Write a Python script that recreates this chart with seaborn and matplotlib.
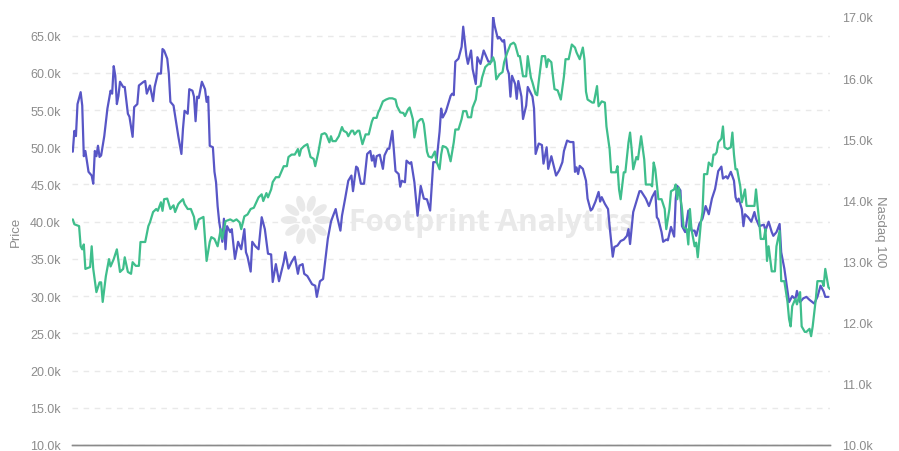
import matplotlib
matplotlib.use("Agg")

import matplotlib.pyplot as plt
import matplotlib.ticker as mticker
import numpy as np
import pandas as pd
import seaborn as sns
from matplotlib.patches import Ellipse

START_DATE = "2021-02-14"

# BTC price (left axis), day offset from START_DATE and value in thousands
btc_day = [
    0, 1, 2, 3, 5, 6, 7, 8, 10, 12,
    13, 14, 15, 16, 17, 18, 20, 22, 24, 25,
    26, 27, 28, 29, 30, 32, 33, 35, 36, 38,
    39, 41, 42, 45, 46, 47, 49, 51, 52, 54,
    56, 57, 58, 60, 61, 62, 64, 67, 69, 70,
    71, 73, 74, 76, 77, 78, 79, 80, 82, 84,
    85, 86, 87, 89, 90, 91, 92, 93, 95, 96,
    97, 98, 100, 101, 103, 105, 107, 109, 110, 111,
    113, 114, 116, 118, 120, 121, 122, 124, 126, 127,
    129, 131, 134, 135, 137, 139, 141, 143, 144, 146,
    147, 149, 152, 154, 155, 157, 159, 160, 162, 164,
    165, 167, 168, 170, 171, 173, 175, 177, 178, 180,
    181, 183, 185, 187, 189, 190, 191, 192, 193, 195,
    197, 198, 200, 201, 203, 205, 207, 208, 209, 211,
    212, 214, 215, 217, 219, 221, 223, 225, 227, 229,
    231, 233, 234, 235, 237, 240, 241, 242, 243, 245,
    247, 248, 250, 251, 253, 254, 256, 257, 259, 261,
    264, 266, 267, 268, 270, 271, 273, 274, 276, 277,
    278, 279, 281, 282, 283, 285, 286, 288, 289, 292,
    293, 294, 296, 298, 299, 301, 302, 304, 306, 307,
    309, 311, 312, 314, 316, 318, 319, 320, 321, 322,
    324, 326, 327, 329, 330, 332, 334, 335, 336, 338,
    340, 341, 343, 344, 346, 348, 350, 352, 353, 354,
    356, 358, 360, 361, 364, 366, 368, 370, 371, 372,
    374, 375, 377, 378, 380, 382, 383, 384, 386, 387,
    389, 391, 393, 395, 396, 398, 400, 402, 404, 406,
    408, 410, 412, 413, 415, 416, 418, 420, 421, 422,
    423, 425, 426, 427, 429, 431, 433, 434, 436, 439,
    440, 442, 444, 445, 447, 449, 450, 452, 454, 455,
    457, 459, 460, 462, 464, 466, 468, 471, 473, 475,
    477, 478, 480,
]
btc_k = [
    49.4, 52.2, 51.5, 55.8, 57.4, 55.6, 48.8, 49.5, 46.7, 46.2,
    45.1, 49.5, 48.8, 50.2, 48.7, 48.9, 51.5, 55.2, 57.6, 57.2,
    60.9, 59.6, 55.8, 56.9, 58.8, 58.1, 58.1, 54.5, 54.1, 51.4,
    55.4, 55.8, 58.3, 58.8, 58.9, 57.2, 58.3, 56.2, 58.1, 59.9,
    59.9, 63.2, 63.0, 61.9, 59.9, 56.1, 55.6, 51.5, 49.1, 52.5,
    54.9, 54.5, 57.8, 57.6, 56.8, 53.5, 56.8, 56.6, 58.8, 57.8,
    56.1, 56.8, 50.2, 50.0, 46.7, 45.3, 42.1, 40.0, 37.3, 40.4,
    36.3, 39.4, 38.6, 39.0, 35.0, 37.3, 36.3, 39.0, 35.9, 35.3,
    33.3, 37.3, 36.7, 36.3, 40.6, 39.8, 39.0, 35.7, 35.6, 31.9,
    34.3, 32.0, 34.6, 35.9, 33.7, 34.6, 35.3, 33.0, 34.1, 34.3,
    33.0, 32.7, 31.6, 31.4, 29.9, 32.0, 32.3, 34.1, 37.7, 40.0,
    40.6, 41.7, 40.6, 38.8, 40.8, 43.1, 45.5, 46.2, 44.1, 47.4,
    47.2, 45.1, 45.1, 49.1, 49.5, 48.2, 48.9, 47.4, 48.8, 49.0,
    47.1, 48.9, 49.8, 49.8, 52.2, 46.8, 46.4, 44.7, 45.5, 45.3,
    48.2, 47.8, 48.0, 45.3, 40.8, 44.8, 43.1, 43.0, 41.5, 48.0,
    48.0, 52.1, 55.2, 54.0, 54.8, 56.9, 57.2, 57.0, 61.5, 61.9,
    63.5, 66.2, 62.3, 61.2, 63.0, 60.5, 58.5, 62.1, 61.2, 63.0,
    61.5, 61.5, 67.5, 66.3, 64.6, 64.8, 64.2, 64.4, 60.5, 59.9,
    56.8, 59.6, 58.5, 56.5, 58.9, 56.8, 53.8, 55.6, 58.1, 56.8,
    55.2, 49.1, 50.5, 50.3, 47.8, 50.0, 47.1, 48.8, 47.1, 46.2,
    46.9, 48.0, 49.5, 50.9, 50.7, 50.7, 46.7, 47.3, 46.4, 47.5,
    47.1, 45.5, 43.1, 41.5, 41.7, 42.7, 44.0, 42.7, 43.3, 42.4,
    41.7, 39.4, 35.3, 36.6, 36.8, 37.4, 37.6, 38.1, 39.0, 37.0,
    41.3, 42.7, 44.1, 44.1, 43.1, 42.1, 43.3, 44.1, 40.6, 40.3,
    38.6, 37.3, 37.6, 37.5, 39.3, 38.0, 43.1, 44.8, 44.2, 39.4,
    38.6, 41.5, 38.8, 38.8, 38.1, 39.7, 40.4, 42.1, 41.0, 43.1,
    44.4, 46.8, 47.4, 45.8, 46.1, 45.8, 46.7, 45.5, 43.3, 42.7,
    43.1, 41.7, 39.4, 41.0, 40.6, 40.0, 41.3, 40.4, 39.4, 39.6,
    38.8, 40.0, 38.6, 38.1, 38.6, 39.7, 35.9, 33.7, 30.7, 29.2,
    30.0, 29.6, 30.7, 29.2, 29.7, 29.9, 29.5, 29.0, 29.9, 31.4,
    30.6, 29.9, 29.9,
]

# Nasdaq 100 (right axis), value in thousands
ndx_day = [
    0, 1, 4, 5, 6, 7, 8, 11, 12, 13,
    15, 17, 18, 19, 21, 23, 24, 26, 28, 30,
    32, 33, 35, 37, 38, 40, 42, 43, 46, 48,
    49, 51, 53, 54, 56, 57, 58, 60, 62, 64,
    65, 67, 68, 70, 71, 73, 75, 77, 78, 80,
    83, 84, 85, 87, 88, 90, 92, 94, 95, 97,
    100, 102, 104, 106, 107, 109, 111, 113, 115, 118,
    120, 121, 123, 124, 126, 127, 129, 131, 134, 136,
    137, 139, 141, 143, 144, 145, 147, 149, 151, 153,
    154, 156, 158, 160, 161, 163, 164, 165, 167, 169,
    171, 172, 174, 175, 177, 178, 179, 181, 182, 184,
    186, 188, 190, 191, 193, 194, 195, 197, 199, 201,
    203, 205, 206, 208, 210, 211, 213, 214, 216, 217,
    219, 221, 222, 223, 225, 226, 228, 230, 231, 233,
    234, 235, 237, 238, 240, 242, 243, 245, 247, 248,
    250, 251, 253, 254, 256, 257, 259, 260, 262, 264,
    265, 267, 268, 269, 271, 273, 274, 276, 278, 280,
    281, 283, 284, 286, 288, 289, 291, 292, 294, 295,
    296, 298, 300, 301, 302, 304, 305, 306, 308, 310,
    312, 313, 315, 317, 319, 320, 322, 324, 325, 326,
    327, 330, 331, 333, 334, 336, 338, 339, 341, 342,
    345, 346, 347, 348, 350, 351, 353, 354, 355, 356,
    358, 359, 361, 363, 364, 367, 368, 369, 370, 372,
    374, 376, 377, 379, 380, 382, 383, 384, 385, 387,
    388, 390, 391, 392, 393, 395, 396, 397, 399, 400,
    401, 403, 404, 406, 407, 408, 409, 410, 412, 413,
    414, 416, 418, 419, 420, 421, 422, 424, 425, 427,
    428, 430, 433, 434, 435, 436, 437, 439, 440, 441,
    442, 444, 446, 447, 449, 450, 452, 454, 455, 456,
    457, 459, 460, 462, 463, 465, 466, 468, 469, 470,
    472, 473, 476, 477, 478, 480, 481,
]
ndx_k = [
    13.69, 13.61, 13.58, 13.25, 13.20, 13.28, 12.88, 12.91, 13.25, 12.88,
    12.50, 12.66, 12.66, 12.34, 12.76, 13.04, 12.92, 13.04, 13.20, 12.83,
    12.88, 13.07, 12.83, 12.80, 12.99, 12.93, 12.93, 13.32, 13.32, 13.58,
    13.64, 13.81, 13.86, 13.83, 13.97, 13.83, 14.02, 14.03, 13.86, 13.92,
    13.81, 13.94, 13.97, 14.02, 13.94, 13.86, 13.86, 13.73, 13.53, 13.69,
    13.73, 13.37, 13.01, 13.32, 13.40, 13.37, 13.25, 13.53, 13.37, 13.66,
    13.69, 13.66, 13.69, 13.64, 13.53, 13.74, 13.77, 13.86, 13.88, 14.05,
    14.10, 13.99, 14.12, 14.05, 14.18, 14.30, 14.38, 14.38, 14.56, 14.56,
    14.71, 14.75, 14.75, 14.84, 14.73, 14.84, 14.89, 14.92, 14.71, 14.68,
    14.56, 14.79, 15.08, 15.10, 15.08, 14.95, 15.05, 14.97, 14.97, 15.05,
    15.20, 15.14, 15.11, 15.05, 15.14, 15.14, 15.08, 15.14, 15.14, 14.92,
    15.08, 15.08, 15.29, 15.35, 15.35, 15.44, 15.49, 15.62, 15.65, 15.67,
    15.67, 15.65, 15.54, 15.44, 15.43, 15.38, 15.49, 15.52, 15.33, 15.03,
    15.28, 15.33, 15.33, 15.25, 14.80, 14.72, 14.70, 14.80, 14.64, 14.51,
    14.75, 14.89, 14.87, 14.84, 14.64, 14.95, 15.16, 15.16, 15.33, 15.46,
    15.46, 15.36, 15.36, 15.52, 15.65, 15.85, 15.87, 16.01, 16.18, 16.23,
    16.23, 16.34, 16.26, 15.98, 16.06, 16.10, 16.26, 16.42, 16.55, 16.58,
    16.55, 16.36, 16.36, 16.03, 16.03, 16.36, 16.01, 15.93, 15.74, 15.72,
    15.95, 16.36, 16.36, 16.18, 16.31, 16.26, 16.03, 15.82, 15.80, 15.65,
    16.03, 16.31, 16.31, 16.55, 16.50, 16.42, 16.31, 16.50, 16.31, 15.78,
    15.65, 15.60, 15.60, 15.87, 15.54, 15.62, 15.60, 15.21, 14.84, 14.46,
    14.46, 14.56, 14.18, 14.02, 14.46, 14.46, 14.95, 15.11, 14.84, 14.51,
    14.71, 14.67, 15.05, 14.67, 14.26, 14.26, 14.23, 14.62, 14.51, 14.02,
    14.02, 13.86, 13.53, 13.86, 14.15, 14.18, 14.26, 14.02, 14.21, 13.86,
    13.56, 13.53, 13.28, 13.86, 13.53, 13.25, 13.31, 13.07, 13.64, 13.81,
    14.43, 14.43, 14.62, 14.56, 14.75, 14.75, 14.79, 14.95, 15.01, 15.21,
    14.87, 14.84, 14.87, 15.11, 14.75, 14.51, 14.51, 14.23, 13.97, 14.18,
    13.91, 13.91, 13.91, 14.18, 13.91, 13.66, 13.37, 13.37, 13.53, 13.01,
    13.25, 12.84, 12.84, 13.25, 13.50, 12.68, 12.68, 12.34, 12.06, 11.94,
    12.27, 12.39, 12.30, 12.50, 11.94, 11.85, 11.85, 11.90, 11.78, 11.94,
    12.39, 12.68, 12.68, 12.60, 12.88, 12.58, 12.55,
]

price_ticks = [10000, 15000, 20000, 25000, 30000, 35000, 40000,
               45000, 50000, 55000, 60000, 65000]
nasdaq_ticks = [10000, 11000, 12000, 13000, 14000, 15000, 16000, 17000]

PURPLE = "#5856c6"
GREEN = "#3fbe8c"
LABEL_GRAY = "#8c8c8c"
AXIS_GRAY = "#8a8a8a"
WATERMARK = "#e9e9e9"


def to_frame(days, values_k):
    """Turn day offsets and values in thousands into a plotting frame."""
    start = pd.Timestamp(START_DATE)
    return pd.DataFrame({
        "date": start + pd.to_timedelta(days, unit="D"),
        "value": np.array(values_k) * 1000,
    })


def k_format(v, _pos):
    return f"{v / 1000:.1f}k"


sns.set_theme(style="white")
plt.rcParams["font.family"] = ["Liberation Sans", "DejaVu Sans"]

btc = to_frame(btc_day, btc_k)
ndx = to_frame(ndx_day, ndx_k)

fig = plt.figure(figsize=(8.99, 4.52), dpi=100, facecolor="white")
ax = fig.add_axes([72 / 899, 1 - 446 / 452, 758 / 899, 428 / 452])
ax2 = ax.twinx()
ax.patch.set_visible(False)

# watermark behind everything
fig.text(349 / 899, 1 - 223 / 452, "Footprint Analytics", fontsize=21.5,
         fontweight="bold", color=WATERMARK, ha="left", va="center",
         zorder=-1, family=["Open Sans", "DejaVu Sans"])
cx, cy = 3.06, (452 - 221) / 100
for ang in np.arange(0, 360, 36):
    r = np.deg2rad(ang)
    fig.add_artist(Ellipse((cx + 0.17 * np.cos(r), cy + 0.17 * np.sin(r)),
                           0.15, 0.065, angle=ang, color=WATERMARK,
                           transform=fig.dpi_scale_trans, zorder=-1))
fig.add_artist(Ellipse((cx, cy), 0.07, 0.07, color=WATERMARK,
                       transform=fig.dpi_scale_trans, zorder=-1))

sns.lineplot(data=btc, x="date", y="value", ax=ax, color=PURPLE,
             linewidth=1.6, estimator=None)
sns.lineplot(data=ndx, x="date", y="value", ax=ax2, color=GREEN,
             linewidth=1.6, estimator=None)

ax.set_xlim(btc["date"].iloc[0] - pd.Timedelta(days=0.5),
            btc["date"].iloc[-1] + pd.Timedelta(days=1))
ax.set_ylim(10000, 67500)
ax2.set_ylim(10000, 17000)

ax.set_yticks(price_ticks)
ax2.set_yticks(nasdaq_ticks)
ax.yaxis.set_major_formatter(mticker.FuncFormatter(k_format))
ax2.yaxis.set_major_formatter(mticker.FuncFormatter(k_format))

ax.grid(axis="y", color="#e9e9e9", linestyle=(0, (4, 4)), linewidth=1)
ax.grid(axis="x", visible=False)
ax2.grid(False)

ax.tick_params(axis="y", length=0, pad=8, labelsize=9, labelcolor=LABEL_GRAY)
ax2.tick_params(axis="y", length=0, pad=9, labelsize=9, labelcolor=LABEL_GRAY)
ax.tick_params(axis="x", length=4, color=AXIS_GRAY, labelbottom=False)

ax.set_xlabel("")
ax.set_ylabel("Price", color=LABEL_GRAY, fontsize=9.5)
ax.yaxis.set_label_coords(-0.066, 0.5)
ax2.set_ylabel("Nasdaq 100", color=LABEL_GRAY, fontsize=9.5, rotation=270,
               va="center")
ax2.yaxis.set_label_coords(1.066, 0.5)

for a in (ax, ax2):
    for side in ("top", "left", "right"):
        a.spines[side].set_visible(False)
    a.spines["bottom"].set_color(AXIS_GRAY)
    a.spines["bottom"].set_linewidth(1)

fig.savefig("out.png", dpi=100, facecolor="white")
